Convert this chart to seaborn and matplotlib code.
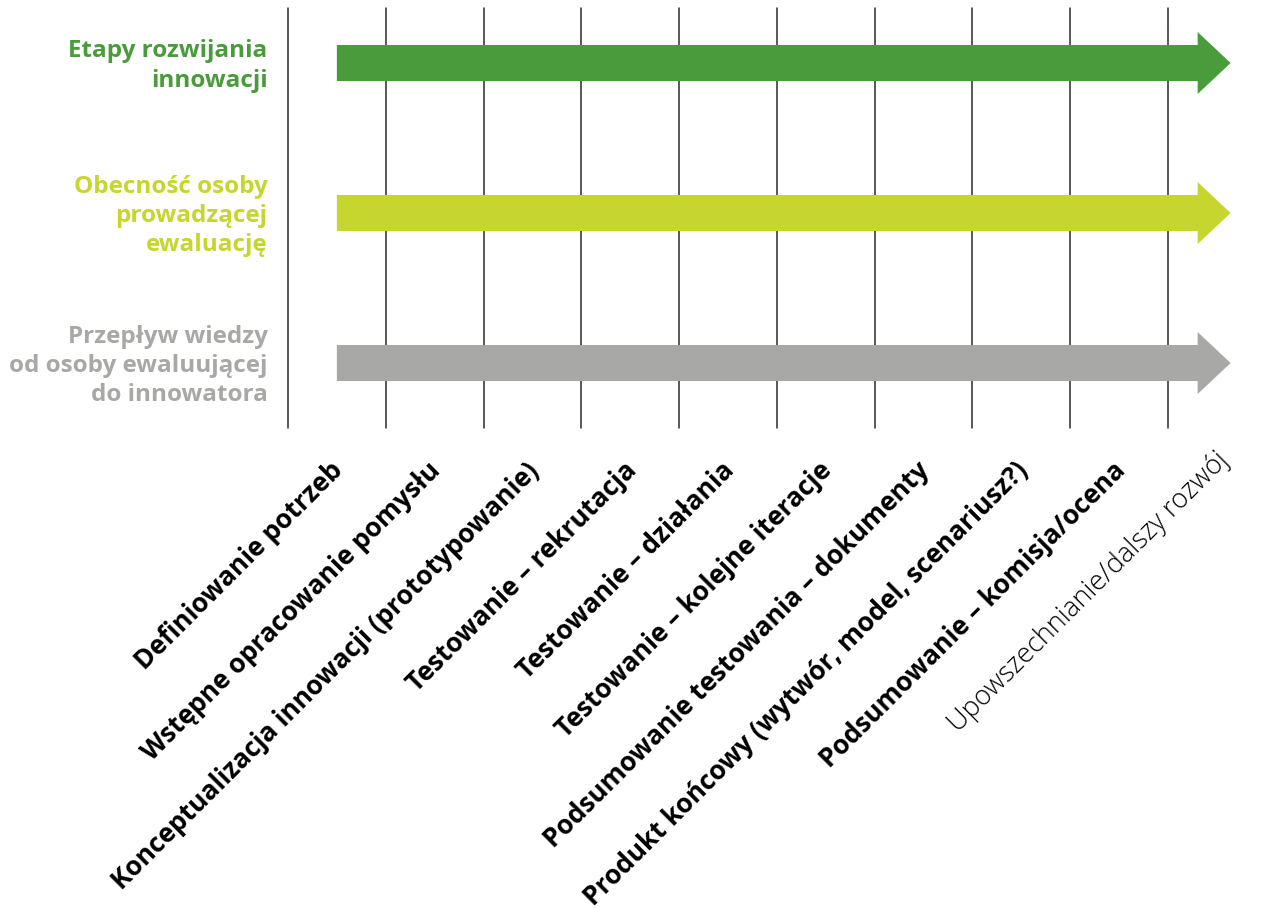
import matplotlib.pyplot as plt
import seaborn as sns

# stages of innovation development (x axis, one per vertical line)
stages = [
    "Definiowanie potrzeb",
    "Wstępne opracowanie pomysłu",
    "Konceptualizacja innowacji (prototypowanie)",
    "Testowanie – rekrutacja",
    "Testowanie – działania",
    "Testowanie – kolejne iteracje",
    "Podsumowanie testowania – dokumenty",
    "Produkt końcowy (wytwór, model, scenariusz?)",
    "Podsumowanie – komisja/ocena",
    "Upowszechnianie/dalszy rozwój",
]
stage_bold = [True] * 9 + [False]

# rows with arrows
rows = [
    "Etapy rozwijania\ninnowacji",
    "Obecność osoby\nprowadzącej\newaluację",
    "Przepływ wiedzy\nod osoby ewaluującej\ndo innowatora",
]
row_colors = ["#499b3b", "#c6d62f", "#a8a8a7"]
arrow_start = [0.5, 0.5, 0.5]
arrow_end = [9.64, 9.64, 9.64]

sns.set_theme(style="white")
plt.rcParams["font.family"] = ["Open Sans", "DejaVu Sans"]

fig = plt.figure(figsize=(12.62, 9.08), dpi=100)
ax = fig.add_axes([0, 0, 1, 1])
ax.set_xlim(-2.945, 9.961)
ax.set_ylim(5.633, -0.42)
ax.set_axis_off()

# vertical stage lines
for i in range(len(stages)):
    ax.plot([i, i], [-0.367, 2.433], color="#2b2b2b", lw=1.1, zorder=1)

# arrows
for r, (lab, col) in enumerate(zip(rows, row_colors)):
    x0, x1 = arrow_start[r], arrow_end[r]
    ax.arrow(x0, r, x1 - x0, 0, width=0.24, head_width=0.413,
             head_length=0.337, length_includes_head=True,
             color=col, lw=0, zorder=2)
    ax.text(-0.21, r + 0.02, lab, ha="right", va="center", color=col,
            fontsize=17.5, fontweight="bold", linespacing=1.3)

# rotated stage labels
for i, (s, b) in enumerate(zip(stages, stage_bold)):
    ax.text(i + (0.52 if b else 0.58), 2.69 if b else 2.62, s, rotation=45,
            rotation_mode="anchor", ha="right", va="center",
            fontsize=19 if b else 19.5,
            fontweight="bold" if b else "light", color="black")

fig.savefig("out.png", dpi=100)
